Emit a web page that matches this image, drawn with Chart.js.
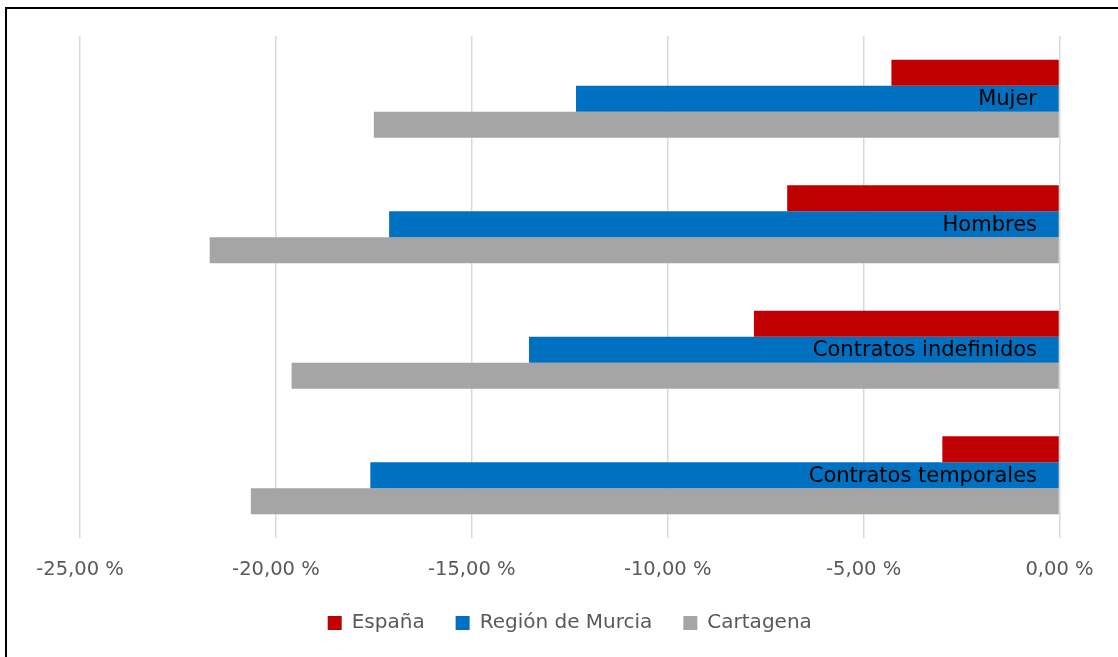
<!DOCTYPE html>
<html><head><meta charset="utf-8">
<script src="https://cdn.jsdelivr.net/npm/chart.js@4.4.1/dist/chart.umd.min.js"></script>
<style>html,body{margin:0;padding:0;background:#fff;overflow:hidden}</style>
</head><body>
<canvas id="c" width="1118" height="657"></canvas>
<script>
const categories = ['Mujer', 'Hombres', 'Contratos indefinidos', 'Contratos temporales'];
const seriesNames = ['España', 'Región de Murcia', 'Cartagena'];
const espana = [-4.29, -6.95, -7.80, -2.99];
const murcia = [-12.34, -17.11, -13.54, -17.59];
const cartagena = [-17.50, -21.69, -19.60, -20.64];
const xTicks = [-25, -20, -15, -10, -5, 0];
const colors = ['#C00000', '#0070C0', '#A5A5A5'];

const FONT = "'DejaVu Sans', 'Open Sans', sans-serif";

const frame = {
  id: 'frame',
  beforeDraw(chart) {
    const ctx = chart.ctx;
    ctx.save();
    ctx.fillStyle = '#fff';
    ctx.fillRect(0, 0, chart.width, chart.height);
    ctx.strokeStyle = '#000';
    ctx.lineWidth = 2;
    ctx.beginPath();
    ctx.moveTo(6, chart.height);
    ctx.lineTo(6, 8);
    ctx.lineTo(chart.width, 8);
    ctx.stroke();
    ctx.restore();
  }
};

const catLabels = {
  id: 'catLabels',
  afterDatasetsDraw(chart) {
    const ctx = chart.ctx;
    const meta = chart.getDatasetMeta(1);
    const xScale = chart.scales.x;
    ctx.save();
    ctx.font = '21px ' + FONT;
    ctx.fillStyle = '#000';
    ctx.textAlign = 'right';
    ctx.textBaseline = 'middle';
    meta.data.forEach((bar, i) => {
      ctx.fillText(categories[i], xScale.getPixelForValue(0) - 22.5, bar.y + 1);
    });
    ctx.restore();
  }
};

const fmt = v => v.toFixed(2).replace('.', ',') + ' %';

new Chart(document.getElementById('c'), {
  type: 'bar',
  data: {
    labels: categories,
    datasets: [
      { label: seriesNames[0], data: espana, backgroundColor: colors[0] },
      { label: seriesNames[1], data: murcia, backgroundColor: colors[1] },
      { label: seriesNames[2], data: cartagena, backgroundColor: colors[2] }
    ]
  },
  options: {
    indexAxis: 'y',
    responsive: false,
    animation: false,
    devicePixelRatio: 1,
    categoryPercentage: 0.6215,
    barPercentage: 1,
    layout: { padding: { top: 36, left: 80, right: 58.5, bottom: 14 } },
    scales: {
      y: { display: false },
      x: {
        min: -25, max: 0,
        afterBuildTicks: axis => { axis.ticks = xTicks.map(v => ({ value: v })); },
        afterFit: scale => { scale.height = 44; },
        grid: { color: '#D9D9D9', lineWidth: 1.5, drawTicks: false },
        border: { display: false },
        ticks: {
          color: '#595959',
          font: { family: FONT, size: 19.5, lineHeight: 1 },
          padding: 22,
          maxRotation: 0,
          callback: v => fmt(v)
        }
      }
    },
    plugins: {
      legend: {
        position: 'bottom',
        labels: {
          color: '#595959',
          font: { family: FONT, size: 20 },
          boxWidth: 14,
          boxHeight: 14,
          padding: 31
        }
      },
      tooltip: { enabled: false }
    }
  },
  plugins: [frame, catLabels]
});
</script>
</body></html>
